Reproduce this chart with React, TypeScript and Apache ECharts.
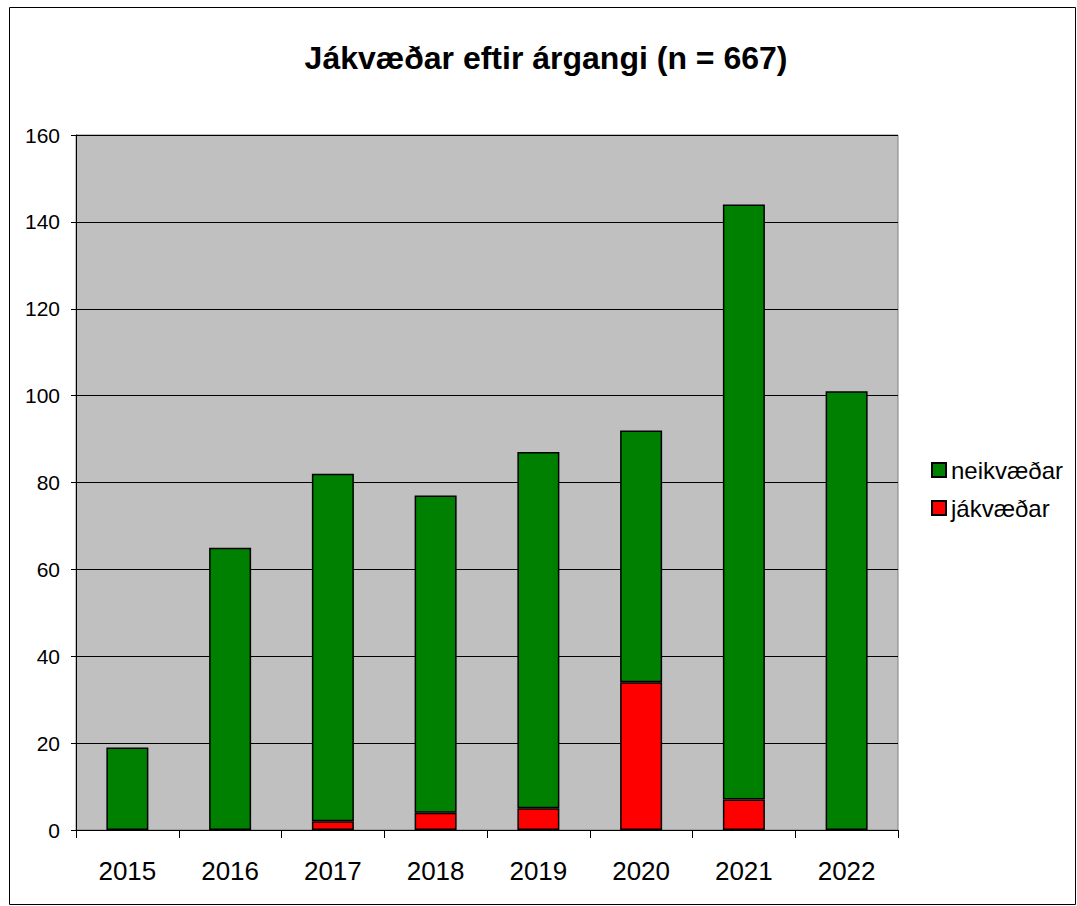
import React, { useEffect, useRef } from "react";
import * as echarts from "echarts";

const categories = ["2015", "2016", "2017", "2018", "2019", "2020", "2021", "2022"];
const neikvaedar = [19, 65, 80, 73, 82, 58, 137, 101];
const jakvaedar = [0, 0, 2, 4, 5, 34, 7, 0];
const titleText = "Jákvæðar eftir árgangi (n = 667)";

const FONT = "Liberation Sans, Arial, sans-serif";

export default function App() {
  const ref = useRef<HTMLDivElement>(null);
  useEffect(() => {
    const chart = echarts.init(ref.current!, undefined, { renderer: "svg" });
    chart.setOption({
      animation: false,
      backgroundColor: "#ffffff",
      textStyle: { fontFamily: FONT },
      title: {
        text: titleText,
        left: 541,
        textAlign: "center",
        top: 37,
        textStyle: { fontSize: 32, fontWeight: "bold", color: "#000", fontFamily: FONT },
      },
      graphic: [
        {
          type: "rect",
          shape: { x: 9.5, y: 7.5, width: 1066, height: 897 },
          style: { fill: "none", stroke: "#000", lineWidth: 1 },
          silent: true,
        },
      ],
      legend: {
        orient: "vertical",
        left: 926,
        top: 453,
        itemWidth: 14,
        itemHeight: 14,
        itemGap: 14,
        icon: "rect",
        data: ["neikvæðar", "jákvæðar"],
        textStyle: { fontSize: 24, color: "#000", fontFamily: FONT },
      },
      grid: {
        left: 76,
        right: 1077 - 898,
        top: 135,
        bottom: 906 - 830,
        show: true,
        backgroundColor: "#c0c0c0",
        borderColor: "#808080",
        borderWidth: 1,
        containLabel: false,
      },
      xAxis: {
        type: "category",
        data: categories,
        boundaryGap: true,
        axisLine: { show: true, lineStyle: { color: "#000", width: 1 } },
        axisTick: { show: true, length: 8, lineStyle: { color: "#000" } },
        axisLabel: { fontSize: 26, color: "#000", margin: 28, fontFamily: FONT },
        splitLine: { show: false },
      },
      yAxis: {
        type: "value",
        min: 0,
        max: 160,
        interval: 20,
        axisLine: { show: true, lineStyle: { color: "#000", width: 1 } },
        axisTick: { show: true, length: 5, lineStyle: { color: "#000" } },
        axisLabel: { fontSize: 21, color: "#000", margin: 16, fontFamily: FONT },
        splitLine: { show: true, lineStyle: { color: "#000", width: 1 } },
      },
      series: [
        {
          name: "jákvæðar",
          type: "bar",
          stack: "total",
          data: jakvaedar.map((v) => (v === 0 ? null : v)),
          barWidth: 42,
          itemStyle: { color: "#ff0000", borderColor: "#000", borderWidth: 1.5 },
        },
        {
          name: "neikvæðar",
          type: "bar",
          stack: "total",
          data: neikvaedar,
          barWidth: 42,
          itemStyle: { color: "#008000", borderColor: "#000", borderWidth: 1.5 },
        },
      ],
    });
    return () => chart.dispose();
  }, []);
  return (
    <div
      ref={ref}
      style={{ position: "absolute", left: 0, top: 0, width: 1077, height: 906 }}
    />
  );
}
